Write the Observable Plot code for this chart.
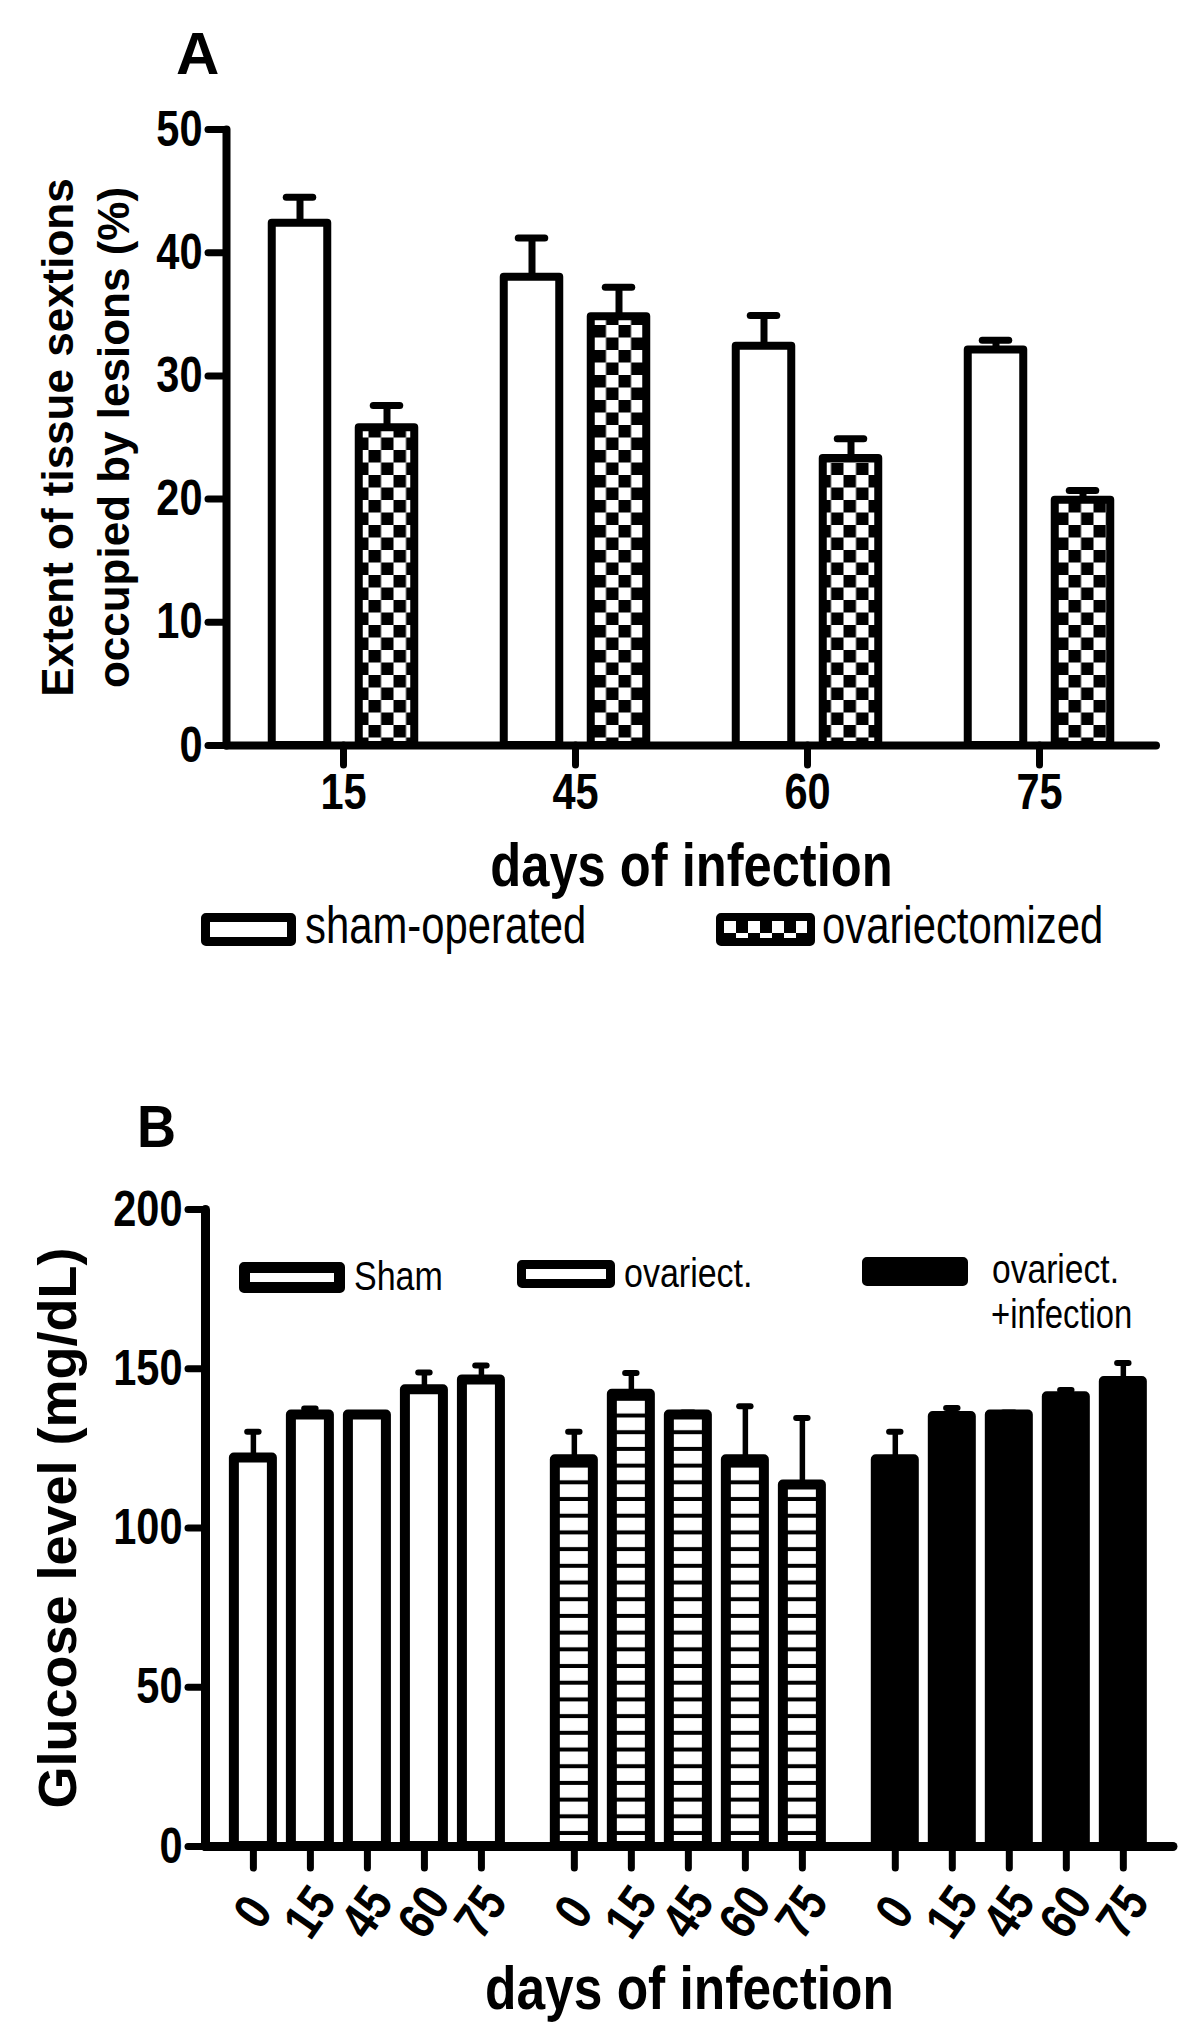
<!DOCTYPE html>
<html><head><meta charset="utf-8">
<script src="https://cdn.jsdelivr.net/npm/d3@7"></script>
<script src="https://cdn.jsdelivr.net/npm/@observablehq/plot@0.6"></script>
<style>
body{margin:0;background:#fff}
#page{position:relative;width:1200px;height:2041px;background:#fff;overflow:hidden}
.abs{position:absolute}
.panel{font-family:"Liberation Sans",Arial,sans-serif;font-weight:bold;font-size:60px;line-height:1;color:#000}
.leg{font-family:"Liberation Sans",Arial,sans-serif;color:#000;white-space:nowrap;line-height:1;transform-origin:0 50%}
.box{box-sizing:border-box;border:solid #000;border-radius:5px;background:#fff}
</style></head><body><div id="page"></div>
<script>
// ---------- Panel A data ----------
const daysA = ["15", "45", "60", "75"];
const shamA = [42.4, 38.0, 32.4, 32.1];
const shamAErr = [2.1, 3.2, 2.5, 0.8];
const ovxA = [25.8, 34.8, 23.3, 19.9];
const ovxAErr = [1.8, 2.4, 1.6, 0.8];
const ticksA = [0, 10, 20, 30, 40, 50];
const yTitleA = "Extent of tissue sextions\noccupied by lesions (%)";
const xTitle = "days of infection";
const legendA = ["sham-operated", "ovariectomized"];

// ---------- Panel B data ----------
const groupsB = ["Sham", "ovariect.", "ovariect.+infection"];
const daysB = ["0", "15", "45", "60", "75"];
const shamB = [122.0, 135.5, 135.5, 143.4, 146.5];
const shamBErr = [8.2, 2.0, 0.6, 5.4, 4.5];
const ovxB = [121.4, 142.0, 135.5, 121.4, 113.5];
const ovxBErr = [8.8, 6.7, 0.8, 16.8, 21.0];
const infB = [121.4, 135.0, 135.5, 141.2, 146.0];
const infBErr = [8.8, 2.7, 0.8, 2.1, 5.8];
const ticksB = [0, 50, 100, 150, 200];
const yTitleB = "Glucose level (mg/dL)";
const legendB = ["Sham", "ovariect.", "ovariect.\n+infection"];

const page = document.getElementById("page");
const W = 1200;
const font = '"Liberation Sans", Arial, sans-serif';

// squeeze horizontal glyph widths (the figure's lettering is condensed)
function condense(svg, factor, keep) {
  svg.querySelectorAll("text").forEach(t => {
    if (keep && keep(t)) return;
    const L = t.getComputedTextLength();
    if (L > 0) { t.setAttribute("textLength", (L * factor).toFixed(1)); t.setAttribute("lengthAdjust", "spacingAndGlyphs"); }
  });
}
const isVertical = t => /rotate\(-90\)/.test(t.getAttribute("transform") || "");

// ================= Panel A =================
const rowsA = daysA.map((d, i) => ({day: d, sham: shamA[i], shamErr: shamAErr[i], ovx: ovxA[i], ovxErr: ovxAErr[i]}));
const A = {h: 900, left: 226, right: 44, top: 129, bottom: 155};
const stepA = (W - A.left - A.right) / daysA.length;
const barWA = 56, offA = 43.5, capWA = 27;
const insA = (stepA - barWA) / 2, capInsA = (stepA - capWA) / 2;

const svgA = Plot.plot({
  width: W, height: A.h,
  marginLeft: A.left, marginRight: A.right, marginTop: A.top, marginBottom: A.bottom,
  style: {background: "white", color: "black", fontFamily: font, fontSize: "50px", fontWeight: "bold", overflow: "visible"},
  x: {type: "band", domain: daysA, padding: 0},
  y: {domain: [0, 50]},
  marks: [
    Plot.barY(rowsA, {x: "day", y: "sham", fill: "white", stroke: "black", strokeWidth: 8, strokeLinejoin: "round", insetLeft: insA, insetRight: insA, dx: -offA}),
    Plot.barY(rowsA, {x: "day", y: "ovx", fill: "url(#checkA)", stroke: "black", strokeWidth: 8, strokeLinejoin: "round", insetLeft: insA, insetRight: insA, dx: offA}),
    Plot.ruleX(rowsA, {x: "day", y1: "sham", y2: d => d.sham + d.shamErr, strokeWidth: 7, dx: -offA}),
    Plot.tickY(rowsA, {x: "day", y: d => d.sham + d.shamErr, strokeWidth: 7, strokeLinecap: "round", insetLeft: capInsA, insetRight: capInsA, dx: -offA}),
    Plot.ruleX(rowsA, {x: "day", y1: "ovx", y2: d => d.ovx + d.ovxErr, strokeWidth: 7, dx: offA}),
    Plot.tickY(rowsA, {x: "day", y: d => d.ovx + d.ovxErr, strokeWidth: 7, strokeLinecap: "round", insetLeft: capInsA, insetRight: capInsA, dx: offA}),
    Plot.ruleY([0], {strokeWidth: 8, strokeLinecap: "round"}),
    Plot.frame({anchor: "left", strokeWidth: 8, strokeLinecap: "round"}),
    Plot.axisY({ticks: ticksA, tickSize: 18, tickPadding: 6, strokeWidth: 7, strokeLinecap: "round", fontSize: 50, fontWeight: "bold", label: null}),
    Plot.axisX({tickSize: 20, tickPadding: 8, strokeWidth: 7, strokeLinecap: "round", fontSize: 50, fontWeight: "bold", label: null}),
    Plot.text([yTitleA], {text: d => d, frameAnchor: "left", dx: -143, rotate: -90, textAnchor: "middle", lineAnchor: "middle", lineHeight: 1.27, fontSize: 44, fontWeight: "bold", fontFamily: font}),
    Plot.text([xTitle], {text: d => d, frameAnchor: "bottom", dy: 121, textAnchor: "middle", lineAnchor: "middle", fontSize: 61, fontWeight: "bold", fontFamily: font})
  ]
});
{
  const defs = d3.select(svgA).insert("defs", ":first-child");
  const p = defs.append("pattern").attr("id", "checkA").attr("patternUnits", "userSpaceOnUse").attr("width", 25).attr("height", 25);
  p.append("rect").attr("width", 25).attr("height", 25).attr("fill", "white");
  p.append("rect").attr("width", 12.5).attr("height", 12.5).attr("fill", "black");
  p.append("rect").attr("x", 12.5).attr("y", 12.5).attr("width", 12.5).attr("height", 12.5).attr("fill", "black");
}
svgA.classList.add("abs");
svgA.style.left = "0px"; svgA.style.top = "0px";
page.appendChild(svgA);
condense(svgA, 0.83, isVertical);

// ================= Panel B =================
const valsB = [shamB, ovxB, infB];
const errsB = [shamBErr, ovxBErr, infBErr];
const groupPitch = 5.63; // slot distance between first bars of consecutive groups
const rowsB = [];
groupsB.forEach((g, gi) => daysB.forEach((d, di) => rowsB.push({group: g, gi, day: d, pos: gi * groupPitch + di, value: valsB[gi][di], err: errsB[gi][di]})));
const B = {top0: 1000, h: 1041, left: 205, right: 27, top: 209, bottom: 195};
const fillsB = ["white", "url(#stripesB)", "black"];

const svgB = Plot.plot({
  width: W, height: B.h,
  marginLeft: B.left, marginRight: B.right, marginTop: B.top, marginBottom: B.bottom,
  style: {background: "white", color: "black", fontFamily: font, fontSize: "50px", fontWeight: "bold", overflow: "visible"},
  x: {type: "linear", domain: [-0.84, 16.14]},
  y: {domain: [0, 200]},
  marks: [
    ...groupsB.map((g, gi) => Plot.rectY(rowsB.filter(r => r.gi === gi), {x1: d => d.pos - 0.5, x2: d => d.pos + 0.5, y1: 0, y2: "value", insetLeft: 9.5, insetRight: 9.5, fill: fillsB[gi], stroke: "black", strokeWidth: 10, strokeLinejoin: "round"})),
    Plot.ruleX(rowsB, {x: "pos", y1: "value", y2: d => d.value + d.err, strokeWidth: 5.5}),
    Plot.ruleY(rowsB, {y: d => d.value + d.err, x1: d => d.pos - 0.1, x2: d => d.pos + 0.1, strokeWidth: 6, strokeLinecap: "round"}),
    Plot.ruleY([0], {strokeWidth: 9, strokeLinecap: "round"}),
    Plot.frame({anchor: "left", strokeWidth: 9, strokeLinecap: "round"}),
    Plot.axisY({ticks: ticksB, tickSize: 17, tickPadding: 6, strokeWidth: 7, strokeLinecap: "round", fontSize: 50, fontWeight: "bold", label: null}),
    Plot.axisX({ticks: rowsB.map(d => d.pos), tickSize: 22, strokeWidth: 7, strokeLinecap: "round", tickFormat: () => "", label: null}),
    Plot.text(rowsB, {x: "pos", text: "day", frameAnchor: "bottom", dy: 66, rotate: -55, textAnchor: "middle", lineAnchor: "middle", fontSize: 52, fontWeight: "bold", fontFamily: font}),
    Plot.text([yTitleB], {text: d => d, frameAnchor: "left", dx: -147, rotate: -90, textAnchor: "middle", lineAnchor: "middle", fontSize: 54, fontWeight: "bold", fontFamily: font}),
    Plot.text([xTitle], {text: d => d, frameAnchor: "bottom", dy: 143, textAnchor: "middle", lineAnchor: "middle", fontSize: 62, fontWeight: "bold", fontFamily: font})
  ]
});
{
  const defs = d3.select(svgB).insert("defs", ":first-child");
  const p = defs.append("pattern").attr("id", "stripesB").attr("patternUnits", "userSpaceOnUse").attr("width", 20).attr("height", 16.7);
  p.append("rect").attr("width", 20).attr("height", 16.7).attr("fill", "white");
  p.append("rect").attr("y", 12.7).attr("width", 20).attr("height", 4).attr("fill", "black");
}
svgB.classList.add("abs");
svgB.style.left = "0px"; svgB.style.top = B.top0 + "px";
page.appendChild(svgB);
condense(svgB, 0.83, isVertical);

// ================= panel letters & legends (HTML) =================
function el(tag, cls, css, text) {
  const e = document.createElement(tag);
  if (cls) e.className = cls;
  Object.assign(e.style, css);
  if (text != null) e.textContent = text;
  page.appendChild(e);
  return e;
}
el("div", "abs panel", {left: "176px", top: "24px"}, "A");
el("div", "abs panel", {left: "137px", top: "1097px", transform: "scaleX(0.9)", transformOrigin: "0 0"}, "B");

// Legend A
el("div", "abs box", {left: "201px", top: "913px", width: "95px", height: "33px", borderWidth: "9px"});
el("div", "abs leg", {left: "305px", top: "900px", fontSize: "51px", transform: "scaleX(0.82)"}, legendA[0]);
el("div", "abs box", {left: "716px", top: "913px", width: "99px", height: "33px", borderWidth: "8px",
  background: "repeating-conic-gradient(#000 0 25%, #fff 0 50%) 0 0/24px 24px"});
el("div", "abs leg", {left: "822px", top: "900px", fontSize: "51px", transform: "scaleX(0.82)"}, legendA[1]);

// Legend B
el("div", "abs box", {left: "239px", top: "1262px", width: "106px", height: "31px", borderWidth: "11px"});
el("div", "abs leg", {left: "354px", top: "1256px", fontSize: "40px", transform: "scaleX(0.85)"}, legendB[0]);
el("div", "abs box", {left: "517px", top: "1260px", width: "98px", height: "28px", borderWidth: "9px"});
el("div", "abs leg", {left: "624px", top: "1253px", fontSize: "40px", transform: "scaleX(0.85)"}, legendB[1]);
el("div", "abs box", {left: "862px", top: "1257px", width: "106px", height: "29px", borderWidth: "9px", background: "#000"});
const infLines = legendB[2].split("\n");
el("div", "abs leg", {left: "992px", top: "1249px", fontSize: "40px", transform: "scaleX(0.84)"}, infLines[0]);
el("div", "abs leg", {left: "991px", top: "1294px", fontSize: "40px", transform: "scaleX(0.82)"}, infLines[1]);
</script></body></html>
